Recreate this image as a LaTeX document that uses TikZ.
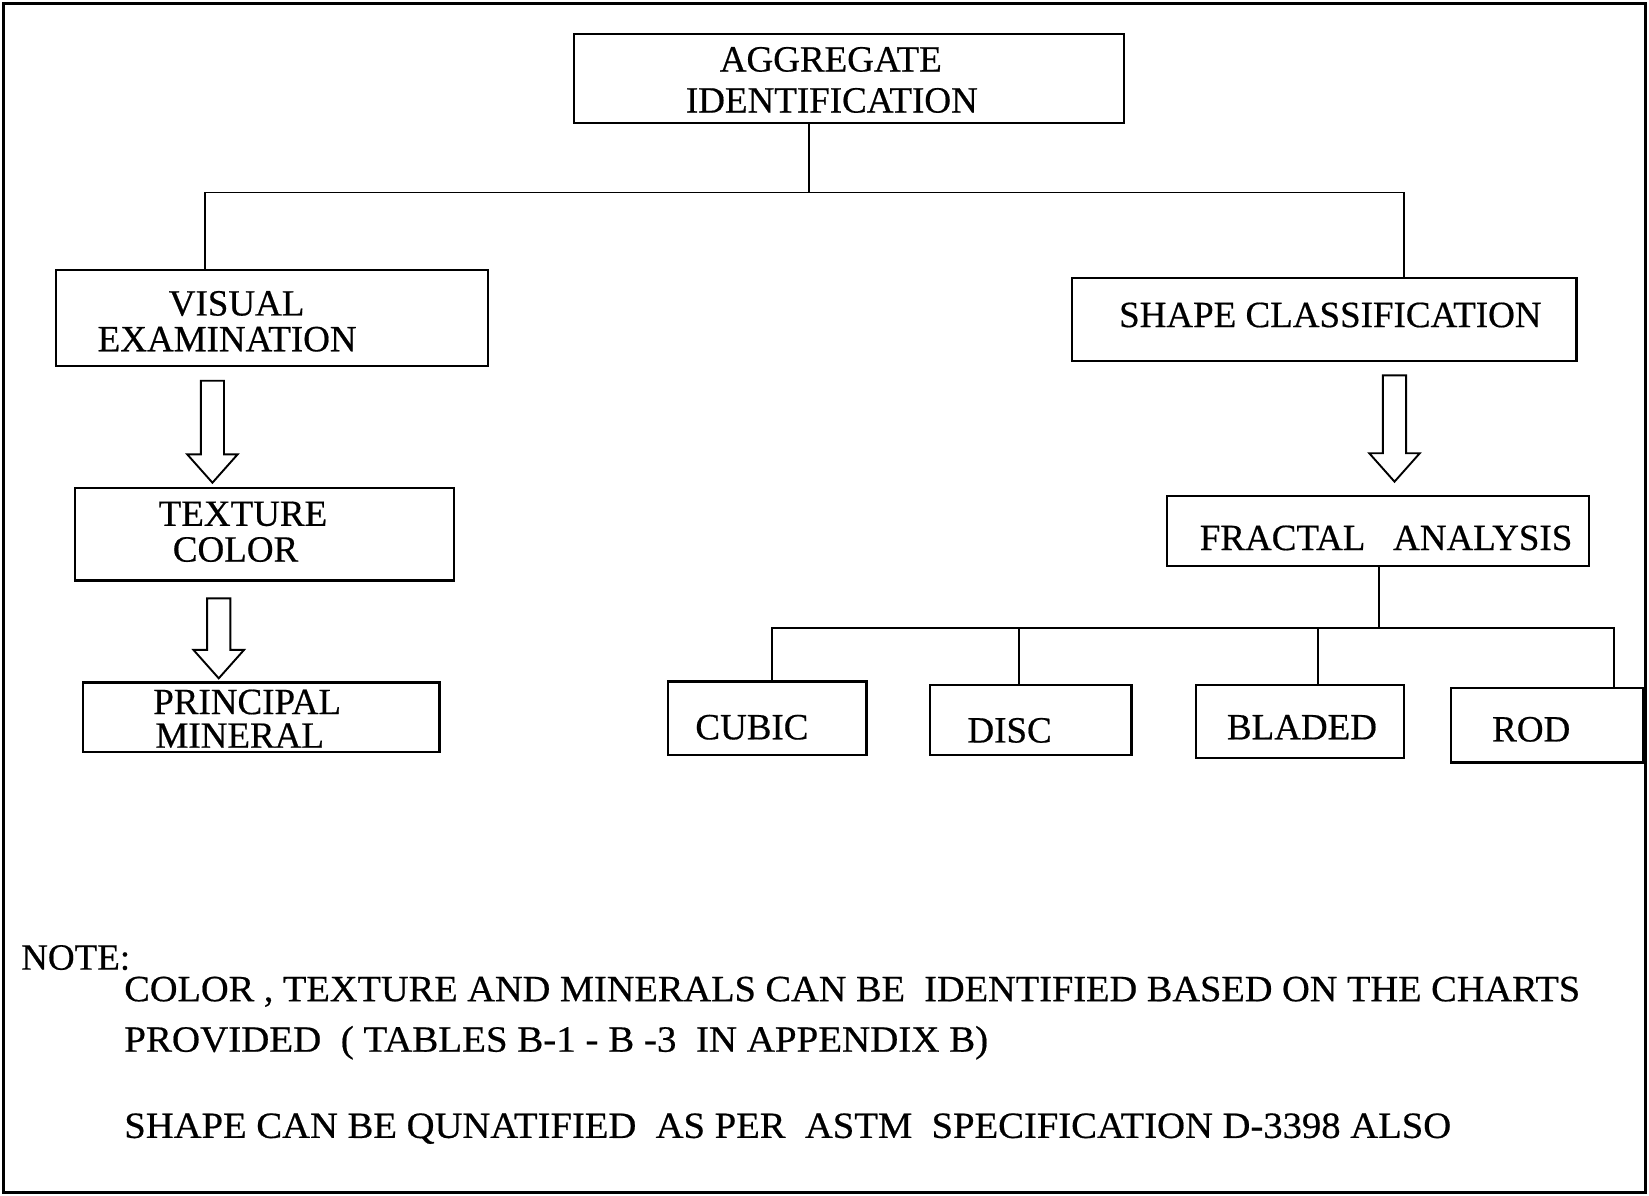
\documentclass[tikz,border=0pt]{standalone}
\usepackage{fontspec}
\setmainfont{Liberation Serif}
\newfontfamily\inkfont[FakeBold=0.5]{Liberation Serif}
\usepackage{graphicx}
\usetikzlibrary{fit}
% hollow block arrow pointing down: #1 = x of axis, #2 = top of shaft, #3 = tip
\newcommand\hollowdown[3]{%
  \draw[blockarrow] (#1-11,#2) -- (#1+11,#2) -- (#1+11,#3-27) -- (#1+24,#3-27)
    -- (#1,#3) -- (#1-24,#3-27) -- (#1-11,#3-27) -- cycle;}
\begin{document}
\begin{tikzpicture}[x=1.0517pt,y=-1.0517pt,
  box/.style={draw, line width=2.2pt, inner sep=0pt},
  lbl/.style={font=\inkfont\fontsize{37}{40}\selectfont, anchor=base, inner sep=0pt},
  link/.style={line width=1.9pt},
  blockarrow/.style={draw, line width=1.9pt, fill=white, line join=miter},
  notetext/.style={font=\inkfont\fontsize{37}{40}\selectfont, anchor=base west, inner sep=0pt}]
\useasboundingbox (0,0) rectangle (1568,1137);
% outer frame
\draw[line width=3pt] (3,3) rectangle (1565,1134);

% boxes
\node[box, fit={(546,32) (1069,117)}] (agg) {};
\node[box, fit={(53,257) (464,348)}] (vis) {};
\node[box, fit={(71,464) (432,552)}] (tex) {};
\node[box, fit={(79,649) (418,715)}] (min) {};
\node[box, fit={(1019,264) (1499,343)}] (shp) {};
\node[box, fit={(1110,472) (1511,538)}] (fra) {};
\node[box, fit={(635,648) (824,718)}] (cub) {};
\node[box, fit={(884,651) (1076,718)}] (dis) {};
\node[box, fit={(1137,651) (1335,721)}] (bla) {};
\node[box, fit={(1380,654) (1562,725)}] (rod) {};

% box labels
\node[lbl] (aggA) at (790,68) {AGGREGATE};
\node[lbl] (aggB) at (791,107) {IDENTIFICATION};
\node[lbl] (visA) at (225,300) {VISUAL};
\node[lbl] (visB) at (216,334) {EXAMINATION};
\node[lbl] (texA) at (231,500) {TEXTURE};
\node[lbl] (texB) at (224,534) {COLOR};
\node[lbl] (minA) at (235,679) {PRINCIPAL};
\node[lbl] (minB) at (228,711) {MINERAL};
\node[lbl] (shpA) at (1265,311) {SHAPE CLASSIFICATION};
\node[lbl] (fraA) at (1318,523) {FRACTAL\ \ \ ANALYSIS};
\node[lbl] (cubA) at (715,703) {CUBIC};
\node[lbl] (disA) at (960,706) {DISC};
\node[lbl] (blaA) at (1238,703) {BLADED};
\node[lbl] (rodA) at (1456,705) {ROD};

% tree connectors
\coordinate (jm) at (769,183);
\coordinate (jl) at (195,183);
\coordinate (jr) at (1335,183);
\draw[link] (jm |- agg.south) -- (jm);
\draw[link] (jl |- vis.north) -- (jl) -- (jr) -- (jr |- shp.north);

\coordinate (fj) at (1311,597);
\coordinate (f1) at (734,597);
\coordinate (f2) at (969,597);
\coordinate (f3) at (1253,597);
\coordinate (f4) at (1535,597);
\draw[link] (fj |- fra.south) -- (fj);
\draw[link] (f1 |- cub.north) -- (f1) -- (f4) -- (f4 |- rod.north);
\draw[link] (f2) -- (f2 |- dis.north);
\draw[link] (f3) -- (f3 |- bla.north);

% block arrows
\hollowdown{202}{362}{459}
\hollowdown{208}{569}{645}
\hollowdown{1326}{357}{458}

% note
\node[notetext] (note) at (20,922) {NOTE:};
\node[notetext] (n1) at (118,952) {\resizebox{1456pt}{\height}{COLOR , TEXTURE AND MINERALS CAN BE\ \ IDENTIFIED BASED ON THE CHARTS}};
\node[notetext] (n2) at (118,1000) {\resizebox{864pt}{\height}{PROVIDED\ \ ( TABLES B-1 - B -3\ \ IN APPENDIX B)}};
\node[notetext] (n3) at (118,1082) {\resizebox{1327pt}{\height}{SHAPE CAN BE QUNATIFIED\ \ AS PER\ \ ASTM\ \ SPECIFICATION D-3398 ALSO}};
\end{tikzpicture}
\end{document}
